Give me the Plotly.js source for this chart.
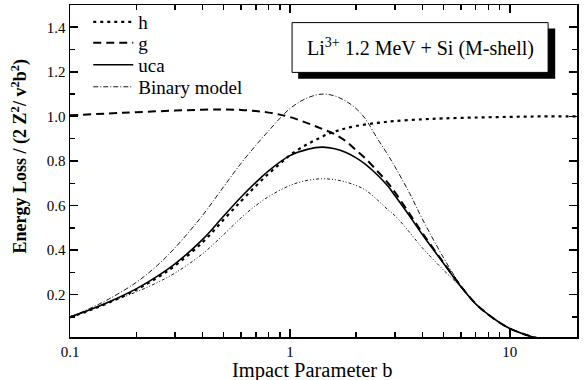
<!DOCTYPE html>
<html>
<head>
<meta charset="utf-8">
<script src="https://cdn.plot.ly/plotly-3.0.1.min.js"></script>
<style>html,body{margin:0;padding:0;background:#fff;}#chart{width:584px;height:380px;}</style>
</head>
<body>
<div id="chart"></div>
<script>
// Impact parameter b (shared by uca, binary model and the unlabeled lower curve)
var bB = [0.1,0.12,0.15,0.2,0.25,0.3,0.4,0.5,0.6,0.7,0.8,1.0,1.2,1.4,1.6,1.8,2.0,2.2,2.5,2.8,3.0,3.5,4.0,5.0,6.0,7.0,8.0,9.0,10,12,13.5];
var uca    = [0.100,0.128,0.167,0.226,0.283,0.338,0.447,0.553,0.638,0.704,0.756,0.824,0.852,0.862,0.855,0.838,0.814,0.786,0.737,0.685,0.645,0.553,0.470,0.340,0.235,0.158,0.110,0.074,0.048,0.018,0.004];
var binary = [0.100,0.133,0.180,0.255,0.332,0.410,0.555,0.685,0.790,0.870,0.935,1.035,1.083,1.100,1.092,1.068,1.035,0.990,0.900,0.825,0.775,0.655,0.540,0.365,0.240,0.160,0.110,0.074,0.048,0.018,0.004];
var lower  = [0.100,0.128,0.165,0.212,0.255,0.297,0.383,0.470,0.545,0.600,0.640,0.690,0.713,0.720,0.716,0.705,0.690,0.670,0.625,0.580,0.555,0.480,0.410,0.310,0.232,0.156,0.110,0.074,0.048,0.018,0.004];

var gB = [0.1,0.15,0.2,0.3,0.4,0.5,0.6,0.7,0.8,0.9,1.0,1.2,1.4,1.6,1.8,2.0,2.2,2.5,2.8,3.0,3.5,4.0,5.0,6.0,7.0,8.0,9.0,10,12,13.5];
var g  = [1.005,1.013,1.019,1.026,1.030,1.031,1.029,1.024,1.017,1.008,0.997,0.970,0.944,0.920,0.888,0.848,0.812,0.754,0.700,0.660,0.563,0.477,0.343,0.237,0.159,0.110,0.074,0.048,0.018,0.004];

var hB = [0.1,0.12,0.15,0.2,0.25,0.3,0.4,0.5,0.6,0.7,0.8,0.9,1.0,1.15,1.3,1.5,1.7,2.0,2.5,3.0,4.0,5.0,7.0,10,14,20];
var h  = [0.098,0.126,0.164,0.222,0.277,0.330,0.434,0.537,0.620,0.688,0.743,0.787,0.826,0.865,0.893,0.922,0.940,0.957,0.971,0.979,0.987,0.991,0.995,0.998,1.0,1.0];

var legendNames = ['h','g','uca','Binary model'];
var titleText = 'Li<sup>3+</sup> 1.2 MeV + Si (M-shell)';
var xTitle = 'Impact Parameter b';
var yTitle = '<b>Energy Loss / (2 Z<sup>2</sup>/ v<sup>2</sup>b<sup>2</sup>)</b>';

var F = 'Liberation Serif, Times New Roman, serif';
var SP = {shape:'spline', smoothing:1};

function ln(o){ var r = {color:'#000', shape:'spline', smoothing:1}; for (var k in o) r[k]=o[k]; return r; }

var traces = [
  {x:hB, y:h, name:legendNames[0], legend:'legend', mode:'lines', line:ln({width:2.2, dash:'3px,4px'})},
  {x:gB, y:g, name:legendNames[1], legend:'legend2', mode:'lines', line:ln({width:2, dash:'8px,5px'})},
  {x:bB, y:uca, name:legendNames[2], legend:'legend3', mode:'lines', line:ln({width:1.6})},
  {x:bB, y:binary, name:legendNames[3], legend:'legend4', mode:'lines', line:ln({width:0.9, dash:'5px,2px,1px,2px'})},
  {x:bB, y:lower, name:'', showlegend:false, mode:'lines', line:ln({width:0.9, dash:'3px,2px,1px,2px,1px,2px'})}
];

function leg(y){
  return {x:0.036, y:y, xanchor:'left', yanchor:'middle', bgcolor:'rgba(0,0,0,0)', borderwidth:0,
          font:{family:F, size:19, color:'#000'}, itemwidth:40};
}

var layout = {
  width:584, height:380,
  margin:{l:70, r:7, t:4, b:43},
  paper_bgcolor:'#fff', plot_bgcolor:'#fff',
  font:{family:F, color:'#000', size:15},
  showlegend:true,
  legend:leg(0.946), legend2:leg(0.883), legend3:leg(0.817), legend4:leg(0.751),
  xaxis:{
    type:'log', range:[-1, Math.log10(20.2)],
    tickvals:[0.1,1,10], ticktext:['0.1','1','10'],
    ticks:'inside', ticklen:8, tickwidth:1.6, tickcolor:'#000',
    minor:{tickvals:[0.2,0.3,0.4,0.5,0.6,0.7,0.8,0.9,2,3,4,5,6,7,8,9,20], ticks:'inside', ticklen:5, tickcolor:'#000', tickwidth:1.4},
    showline:true, linecolor:'#000', linewidth:1.5, mirror:'allticks',
    showgrid:false, zeroline:false,
    tickfont:{family:F, size:15}
  },
  yaxis:{
    range:[0.01, 1.5],
    tickvals:[0.2,0.4,0.6,0.8,1.0,1.2,1.4], ticktext:['0.2','0.4','0.6','0.8','1.0','1.2','1.4'],
    ticks:'inside', ticklen:8, tickwidth:1.6, tickcolor:'#000',
    minor:{dtick:0.1, tick0:0, ticks:'inside', ticklen:5, tickcolor:'#000', tickwidth:1.4},
    showline:true, linecolor:'#000', linewidth:1.5, mirror:'allticks',
    showgrid:false, zeroline:false,
    tickfont:{family:F, size:15}
  },
  shapes:[
    {type:'rect', xref:'paper', yref:'paper', x0:0.450, x1:0.957, y0:0.778, y1:0.929, fillcolor:'#000', line:{width:0}, layer:'above'},
    {type:'rect', xref:'paper', yref:'paper', x0:0.438, x1:0.943, y0:0.797, y1:0.947, fillcolor:'#fff', line:{color:'#000', width:1}, layer:'above'}
  ],
  annotations:[
    {xref:'paper', yref:'paper', x:0.6905, y:0.872, xanchor:'center', yanchor:'middle', text:titleText, showarrow:false, font:{family:F, size:20, color:'#000'}},
    {xref:'paper', yref:'paper', x:0.479, y:-0.102, xanchor:'center', yanchor:'middle', text:xTitle, showarrow:false, font:{family:F, size:20.5, color:'#000'}},
    {xref:'paper', yref:'paper', x:-0.0986, y:0.544, xanchor:'center', yanchor:'middle', textangle:-90, text:yTitle, showarrow:false, font:{family:F, size:18, color:'#000'}}
  ]
};

Plotly.newPlot('chart', traces, layout, {displayModeBar:false, staticPlot:true});
</script>
</body>
</html>
